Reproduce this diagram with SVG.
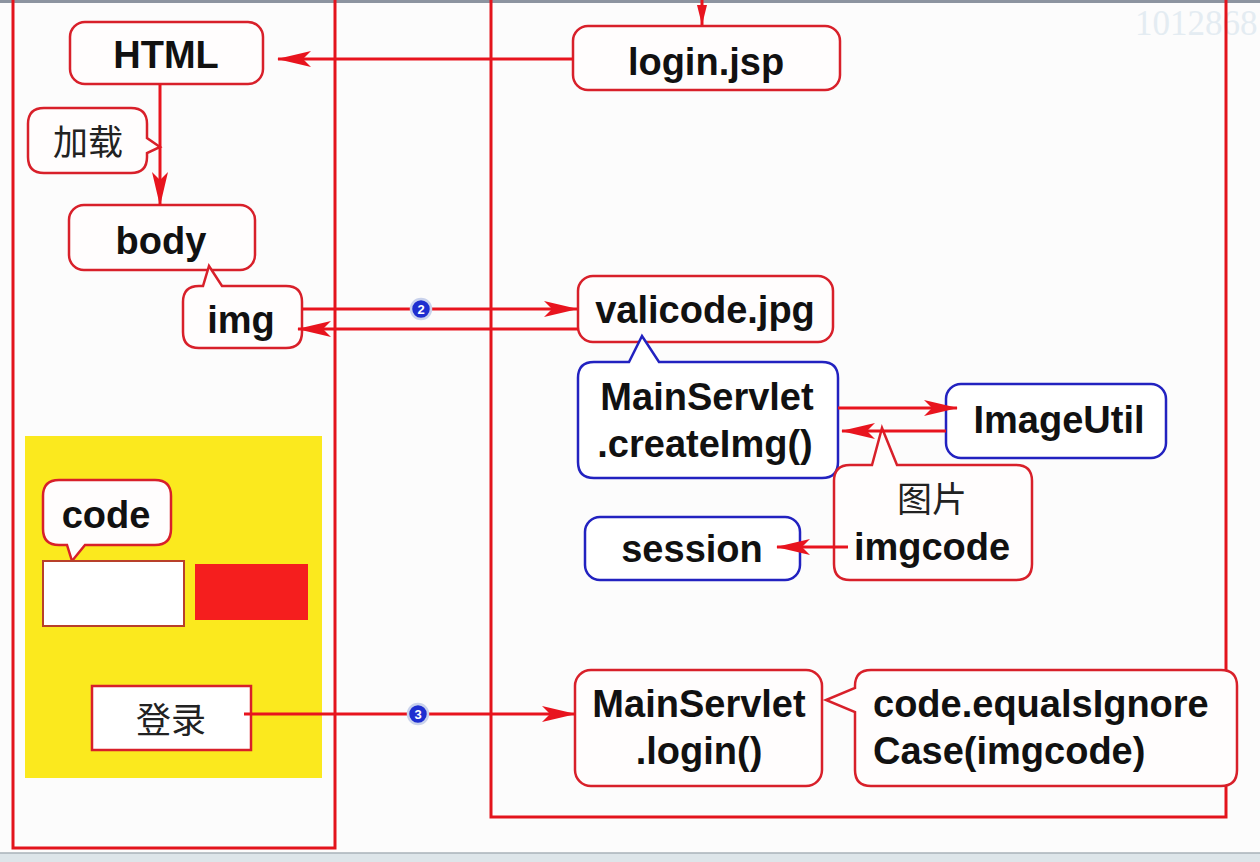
<svg xmlns="http://www.w3.org/2000/svg" width="1260" height="862" viewBox="0 0 1260 862">
<defs>
<style>
.lane{fill:none;stroke:#E3141C;stroke-width:3}
.rnode{fill:#FFFDFD;stroke:#D8202A;stroke-width:2.5}
.bnode{fill:#FFFFFF;stroke:#2222C0;stroke-width:2.5}
.t{font-family:"Liberation Sans",Arial,sans-serif;font-weight:bold;font-size:38px;fill:#111;text-anchor:middle}
.tl{font-family:"Liberation Sans",Arial,sans-serif;font-weight:bold;font-size:38px;fill:#111}
.cjk{font-family:"Liberation Serif","Noto Sans CJK SC",serif;font-size:35px;fill:#222;text-anchor:middle}
.conn{fill:none;stroke:#E8141E;stroke-width:3}
.badge{fill:#1E2ED0;stroke:#C9D2EC;stroke-width:2.5}
.bt{font-family:"Liberation Sans",Arial,sans-serif;font-weight:bold;font-size:13px;fill:#fff;text-anchor:middle}
</style>
<marker id="ah" viewBox="0 0 34 18" refX="33" refY="9" markerWidth="34" markerHeight="18" markerUnits="userSpaceOnUse" orient="auto">
<path d="M0,1 L34,9 L0,17 L8,9 Z" fill="#E8141E"/>
</marker>
<marker id="ahs" viewBox="0 0 20 10" refX="20" refY="5" markerWidth="20" markerHeight="10" markerUnits="userSpaceOnUse" orient="auto">
<path d="M0,0 L20,5 L0,10 Z" fill="#E8141E"/>
</marker>
</defs>
<rect x="0" y="0" width="1260" height="862" fill="#FCFCFC"/>
<rect x="0" y="0" width="1260" height="3" fill="#8C94A0"/>
<rect x="0" y="853" width="1260" height="9" fill="#DDE5E9"/>
<line x1="0" y1="853" x2="1260" y2="853" stroke="#A8B2B8" stroke-width="1.5"/>
<text x="1135" y="35" font-family="Liberation Serif,serif" font-size="35" fill="#E4ECF2">1012868</text>

<g id="lanes">
<path class="lane" d="M13,0 V848 H335 V0"/>
<path class="lane" d="M491,0 V817 H1226 V0"/>
</g>

<g id="form-area">
<rect x="25" y="436" width="297" height="342" fill="#FBE91E"/>
</g>

<g id="html"><rect class="rnode" x="70" y="22" width="193" height="62" rx="15"/><text class="t" x="166" y="68">HTML</text></g>
<g id="loginjsp"><rect class="rnode" x="573" y="26" width="267" height="64" rx="15"/><text class="t" x="706" y="75">login.jsp</text></g>
<g id="load"><path class="rnode" d="M44,108 H131 Q147,108 147,124 V138 L160,147 L147,153 V157 Q147,173 131,173 H44 Q28,173 28,157 V124 Q28,108 44,108 Z"/><text class="cjk" x="88" y="155">加载</text></g>
<g id="body"><rect class="rnode" x="69" y="205" width="186" height="65" rx="15"/><text class="t" x="161" y="254">body</text></g>
<g id="img"><path class="rnode" d="M199,286 H203 L209,266 L222,286 H286 Q302,286 302,302 V332 Q302,348 286,348 H199 Q183,348 183,332 V302 Q183,286 199,286 Z"/><text class="t" x="241" y="333">img</text></g>
<g id="valicode"><rect class="rnode" x="578" y="276" width="255" height="66" rx="15"/><text class="t" x="705" y="323">valicode.jpg</text></g>
<g id="createimg"><path class="bnode" d="M594,362 H629 L642,336 L659,362 H822 Q838,362 838,378 V462 Q838,478 822,478 H594 Q578,478 578,462 V378 Q578,362 594,362 Z"/><text class="t" x="707" y="410">MainServlet</text><text class="t" x="705" y="457">.createImg()</text></g>
<g id="imageutil"><rect class="bnode" x="946" y="384" width="220" height="74" rx="15"/><text class="t" x="1059" y="433">ImageUtil</text></g>
<g id="imgcode"><path class="rnode" d="M850,465 H872 L882,428 L897,465 H1016 Q1032,465 1032,481 V564 Q1032,580 1016,580 H850 Q834,580 834,564 V481 Q834,465 850,465 Z"/><text class="cjk" x="932" y="512">图片</text><text class="t" x="932" y="560">imgcode</text></g>
<g id="session"><rect class="bnode" x="585" y="517" width="215" height="63" rx="15"/><text class="t" x="692" y="562">session</text></g>
<g id="code"><path class="rnode" d="M59,480 H155 Q171,480 171,496 V529 Q171,545 155,545 H85 L72,561 L67,545 H59 Q43,545 43,529 V496 Q43,480 59,480 Z"/><text class="t" x="106" y="528">code</text></g>
<g id="input"><rect x="43" y="561" width="141" height="65" fill="#FFFFFF" stroke="#B8402A" stroke-width="2"/></g>
<g id="captcha"><rect x="195" y="564" width="113" height="56" fill="#F51E1E"/></g>
<g id="loginbtn"><rect x="92" y="686" width="159" height="64" fill="#FFFFFF" stroke="#D8202A" stroke-width="2.5"/><text class="cjk" x="171" y="733">登录</text></g>
<g id="mainlogin"><rect class="rnode" x="575" y="670" width="247" height="116" rx="16"/><text class="t" x="699" y="717">MainServlet</text><text class="t" x="699" y="764">.login()</text></g>
<g id="equals"><path class="rnode" d="M871,670 H1221 Q1237,670 1237,686 V770 Q1237,786 1221,786 H871 Q855,786 855,770 V712 L826,700 L855,688 V686 Q855,670 871,670 Z"/><text class="tl" x="873" y="717">code.equalsIgnore</text><text class="tl" x="873" y="764">Case(imgcode)</text></g>

<g id="connectors">
<line class="conn" x1="573" y1="59" x2="278" y2="59" marker-end="url(#ah)"/>
<line class="conn" x1="702" y1="0" x2="702" y2="25" marker-end="url(#ahs)"/>
<line class="conn" x1="160" y1="84" x2="160" y2="205" marker-end="url(#ah)"/>
<line class="conn" x1="302" y1="309" x2="577" y2="309" marker-end="url(#ah)"/>
<line class="conn" x1="578" y1="329" x2="298" y2="329" marker-end="url(#ah)"/>
<line class="conn" x1="838" y1="408" x2="957" y2="408" marker-end="url(#ah)"/>
<line class="conn" x1="946" y1="431" x2="842" y2="431" marker-end="url(#ah)"/>
<line class="conn" x1="848" y1="547" x2="777" y2="547" marker-end="url(#ah)"/>
<line class="conn" x1="244" y1="714" x2="575" y2="714" marker-end="url(#ah)"/>
<g id="badge2"><circle class="badge" cx="421" cy="309" r="10"/><text class="bt" x="421" y="314">2</text></g>
<g id="badge3"><circle class="badge" cx="418" cy="714" r="10"/><text class="bt" x="418" y="719">3</text></g>
</g>
</svg>
